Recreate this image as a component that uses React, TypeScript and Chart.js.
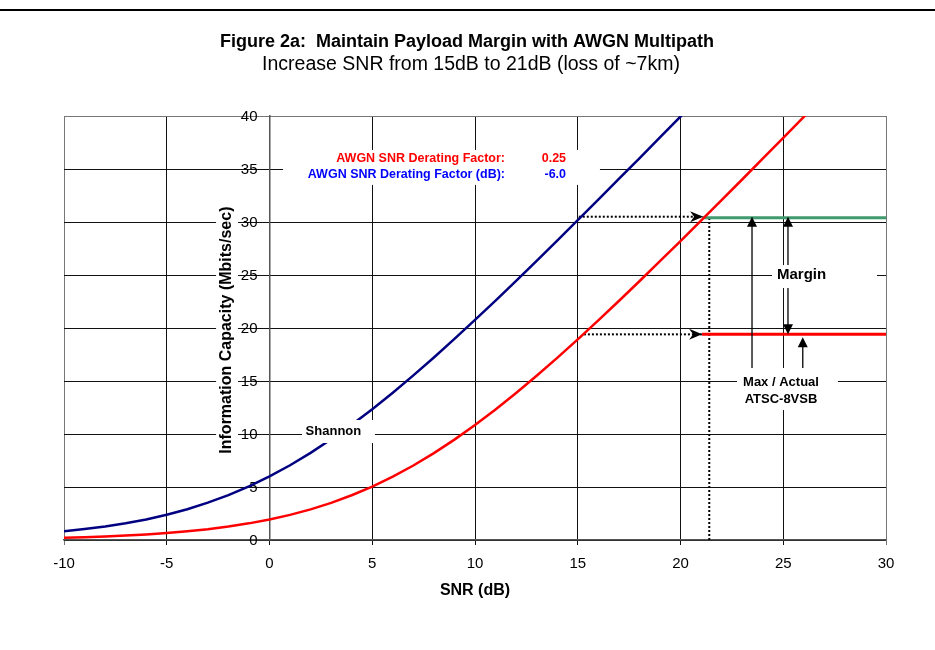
import React, { useEffect, useRef } from 'react';
import { Chart, registerables } from 'chart.js';

Chart.register(...registerables);

// ---------- data ----------
const snrDb = [-10, -9, -8, -7, -6, -5, -4, -3, -2, -1, 0, 1, 2, 3, 4, 5, 6, 7, 8, 9, 10, 11, 12, 13, 14, 15, 16, 17, 18, 19, 20, 21, 22, 23, 24, 25, 26, 27];
const shannonCapacity = [0.83, 1.03, 1.27, 1.58, 1.94, 2.38, 2.90, 3.52, 4.24, 5.06, 6.00, 7.05, 8.22, 9.50, 10.87, 12.34, 13.90, 15.53, 17.22, 18.97, 20.76, 22.59, 24.45, 26.33, 28.24, 30.17, 32.11, 34.06, 36.01, 37.98, 39.95, 41.92];
const deratedCapacity = [0.21, 0.27, 0.34, 0.42, 0.53, 0.66, 0.82, 1.02, 1.27, 1.57, 1.93, 2.37, 2.89, 3.50, 4.22, 5.04, 5.98, 7.03, 8.20, 9.47, 10.84, 12.31, 13.87, 15.49, 17.18, 18.93, 20.72, 22.55, 24.41, 26.30, 28.20, 30.13, 32.07, 34.01, 35.97, 37.94, 39.91, 41.89];

const payloadLevels = [30.4, 19.4]; // Max / Actual ATSC-8VSB (Mbits/sec)
const levelSnrRange = [21.05, 30]; // SNR span of the horizontal payload lines
const maxArrowSnr = [15.05, 21.1]; // dotted arrow from Shannon to derated (max)
const actualArrowSnr = [15.3, 21.05]; // dotted arrow (actual)
const deratedSnrAtMax = 21.4; // dotted vertical drop line

const xTicks = [-10, -5, 0, 5, 10, 15, 20, 25, 30];
const yTicks = [0, 5, 10, 15, 20, 25, 30, 35, 40];

const titleText = 'Figure 2a:  Maintain Payload Margin with AWGN Multipath';
const subtitleText = 'Increase SNR from 15dB to 21dB (loss of ~7km)';
const xTitle = 'SNR (dB)';
const yTitle = 'Information Capacity (Mbits/sec)';
const factorLabels = ['AWGN SNR Derating Factor:', 'AWGN SNR Derating Factor (dB):'];
const factorValues = ['0.25', '-6.0'];
const marginLabel = 'Margin';
const maxActualLabel = ['Max / Actual', 'ATSC-8VSB'];
const shannonLabel = 'Shannon';

const FONT = "'Liberation Sans', Arial, Helvetica, sans-serif";

function pts(xs: number[], ys: number[]) {
  return ys.map((y, i) => ({ x: xs[i], y }));
}

const yLabelPlugin = {
  id: 'yLabels',
  beforeDatasetsDraw(chart: any) {
    const ctx: CanvasRenderingContext2D = chart.ctx;
    const ys = chart.scales.y;
    const axisX = chart.scales.x.getPixelForValue(0);
    ctx.save();
    ctx.font = `15px ${FONT}`;
    ctx.fillStyle = '#000';
    ctx.textAlign = 'right';
    ctx.textBaseline = 'middle';
    ys.ticks.forEach((t: any) => {
      ctx.fillText(String(t.value), axisX - 12, ys.getPixelForValue(t.value) + 1);
    });
    ctx.restore();
  },
};

const annotationPlugin = {
  id: 'annotations',
  afterDatasetsDraw(chart: any) {
    const ctx: CanvasRenderingContext2D = chart.ctx;
    const X = (v: number) => chart.scales.x.getPixelForValue(v);
    const Y = (v: number) => chart.scales.y.getPixelForValue(v);
    ctx.save();

    const head = (tx: number, ty: number, dir: 'up' | 'down' | 'right', len = 10, half = 5) => {
      ctx.beginPath();
      ctx.moveTo(tx, ty);
      if (dir === 'up') {
        ctx.lineTo(tx - half, ty + len);
        ctx.lineTo(tx + half, ty + len);
      } else if (dir === 'down') {
        ctx.lineTo(tx - half, ty - len);
        ctx.lineTo(tx + half, ty - len);
      } else {
        ctx.lineTo(tx - len, ty - half);
        ctx.lineTo(tx - len + 4, ty);
        ctx.lineTo(tx - len, ty + half);
      }
      ctx.closePath();
      ctx.fillStyle = '#000';
      ctx.fill();
    };
    const vline = (x: number, y1: number, y2: number) => {
      ctx.beginPath();
      ctx.moveTo(x, y1);
      ctx.lineTo(x, y2);
      ctx.strokeStyle = '#000';
      ctx.lineWidth = 1.3;
      ctx.stroke();
    };

    const yMax = Y(payloadLevels[0]);
    const yAct = Y(payloadLevels[1]);

    // dotted arrow heads
    head(X(maxArrowSnr[1]), yMax - 1, 'right', 13, 5.5);
    head(X(actualArrowSnr[1]), yAct, 'right', 13, 5.5);

    // long arrow (Max) up to green line
    const xLong = X(23.48);
    vline(xLong, Y(16.2), yMax + 8);
    head(xLong, yMax - 1, 'up', 10, 5);

    // margin double arrow
    const xMar = X(25.23);
    vline(xMar, yMax + 8, yAct - 8);
    head(xMar, yMax - 1, 'up', 10, 5);
    head(xMar, yAct, 'down', 10, 5);

    // short arrow (Actual)
    const xShort = X(25.95);
    vline(xShort, Y(16.0), Y(19.13) + 8);
    head(xShort, Y(19.13), 'up', 10, 5);

    // white label boxes
    ctx.fillStyle = '#fff';
    const box = (x1: number, y1: number, x2: number, y2: number) => {
      ctx.fillRect(X(x1), Y(y1), X(x2) - X(x1), Y(y2) - Y(y1));
    };
    box(0.66, 36.8, 16.08, 33.5); // factor text
    box(24.45, 25.94, 29.56, 23.77); // Margin
    box(22.75, 16.23, 27.66, 12.26); // Max / Actual
    box(1.58, 11.32, 5.13, 9.15); // Shannon
    box(-2.6, 31.9, -1.53, 7.7); // y title

    // texts
    ctx.textBaseline = 'middle';
    ctx.font = `bold 12.5px ${FONT}`;
    ctx.textAlign = 'right';
    ctx.fillStyle = '#ff0000';
    ctx.fillText(factorLabels[0], X(11.46), Y(35.94));
    ctx.fillText(factorValues[0], X(14.43), Y(35.94));
    ctx.fillStyle = '#0000ff';
    ctx.fillText(factorLabels[1], X(11.46), Y(34.43));
    ctx.fillText(factorValues[1], X(14.43), Y(34.43));

    ctx.fillStyle = '#000';
    ctx.textAlign = 'center';
    ctx.font = `bold 15px ${FONT}`;
    ctx.fillText(marginLabel, X(25.89), Y(25.0));
    ctx.font = `bold 13px ${FONT}`;
    ctx.fillText(maxActualLabel[0], X(24.89), Y(14.9));
    ctx.fillText(maxActualLabel[1], X(24.89), Y(13.3));
    ctx.fillText(shannonLabel, X(3.11), Y(10.28));

    // y title
    ctx.save();
    ctx.translate(X(-2.07), Y(19.8));
    ctx.rotate(-Math.PI / 2);
    ctx.font = `bold 16px ${FONT}`;
    ctx.fillText(yTitle, 0, 0);
    ctx.restore();

    ctx.restore();
  },
  afterDraw(chart: any) {
    const ctx: CanvasRenderingContext2D = chart.ctx;
    const area = chart.chartArea;
    ctx.save();
    ctx.fillStyle = '#000';
    ctx.fillRect(0, 9, chart.width, 2);
    ctx.textAlign = 'center';
    ctx.textBaseline = 'middle';
    ctx.font = `bold 18px ${FONT}`;
    ctx.fillText(titleText, 467, 42);
    ctx.font = `19.5px ${FONT}`;
    ctx.fillText(subtitleText, 471, 65);
    ctx.font = `bold 16px ${FONT}`;
    ctx.fillText(xTitle, (area.left + area.right) / 2, 591);
    ctx.restore();
  },
};

export default function App() {
  const ref = useRef<HTMLCanvasElement>(null);
  useEffect(() => {
    if (!ref.current) return;
    Chart.defaults.font.family = FONT;
    const dotted = {
      borderColor: '#000',
      borderWidth: 2,
      borderDash: [2, 2],
      pointRadius: 0,
      fill: false,
    };
    const edgeGrid = (lo: number, hi: number) => (c: any) =>
      c.tick && (c.tick.value === lo || c.tick.value === hi) ? '#777' : '#111';
    const chart = new Chart(ref.current, {
      type: 'line',
      data: {
        datasets: [
          {
            label: 'Derated',
            data: pts(snrDb, deratedCapacity),
            borderColor: '#ff0000',
            borderWidth: 2.5,
            pointRadius: 0,
            tension: 0,
          },
          {
            label: 'Shannon',
            data: pts(snrDb, shannonCapacity),
            borderColor: '#000080',
            borderWidth: 2.5,
            pointRadius: 0,
            tension: 0,
          },
          {
            label: 'Max ATSC',
            data: pts(levelSnrRange, [payloadLevels[0], payloadLevels[0]]),
            borderColor: '#3f9a6e',
            borderWidth: 3,
            pointRadius: 0,
          },
          {
            label: 'Actual ATSC',
            data: pts(levelSnrRange, [payloadLevels[1], payloadLevels[1]]),
            borderColor: '#ff0000',
            borderWidth: 3,
            pointRadius: 0,
          },
          { label: 'drop', data: pts([deratedSnrAtMax, deratedSnrAtMax], [0, payloadLevels[0]]), ...dotted },
          { label: 'maxArrow', data: pts(maxArrowSnr, [payloadLevels[0] + 0.1, payloadLevels[0] + 0.1]), ...dotted },
          { label: 'actArrow', data: pts(actualArrowSnr, [payloadLevels[1], payloadLevels[1]]), ...dotted },
        ],
      },
      options: {
        responsive: false,
        animation: false,
        devicePixelRatio: 1,
        events: [],
        layout: { padding: { left: 64, right: 49, top: 116, bottom: 70 } },
        plugins: {
          legend: { display: false },
          tooltip: { enabled: false },
          title: { display: false },
        },
        scales: {
          x: {
            type: 'linear',
            position: 'bottom',
            min: -10,
            max: 30,
            afterBuildTicks: (s: any) => {
              s.ticks = xTicks.map((v) => ({ value: v }));
            },
            afterFit: (s: any) => {
              s.height = 40;
            },
            ticks: { color: '#000', font: { size: 15, family: FONT }, padding: 10, maxRotation: 0 },
            grid: { color: edgeGrid(-10, 30), lineWidth: 1, tickLength: 5, drawTicks: true },
            border: { display: true, color: '#555', width: 1.5 },
          },
          y: {
            type: 'linear',
            position: { x: 0 } as any,
            min: 0,
            max: 40,
            afterBuildTicks: (s: any) => {
              s.ticks = yTicks.map((v) => ({ value: v }));
            },
            ticks: { display: false },
            grid: { color: edgeGrid(-1, 40), lineWidth: 1, tickLength: 8, drawTicks: true },
            border: { display: true, color: '#555', width: 1.5 },
          },
        },
      },
      plugins: [yLabelPlugin, annotationPlugin],
    } as any);
    return () => chart.destroy();
  }, []);
  return (
    <div style={{ position: 'fixed', left: 0, top: 0, width: 935, height: 650, background: '#fff' }}>
      <canvas ref={ref} width={935} height={650} style={{ display: 'block' }} />
    </div>
  );
}
